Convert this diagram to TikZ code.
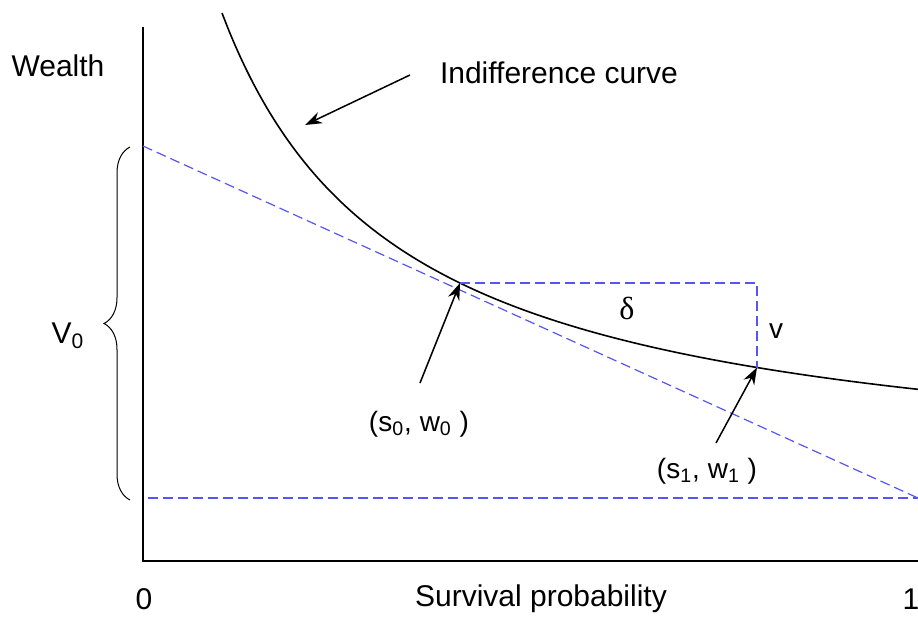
\documentclass[tikz,border=0pt]{standalone}
\usepackage{fontspec}
\setmainfont{Liberation Sans}
\newfontfamily\greekfont{Liberation Serif}
\usetikzlibrary{arrows.meta, decorations.pathreplacing}
\definecolor{budgetblue}{RGB}{85,85,240}

\begin{document}
\begin{tikzpicture}[x=0.5pt, y=-0.5pt, >={Stealth[length=8.5pt, width=6pt]},
    budget/.style={dash pattern=on 5pt off 2.5pt, color=budgetblue, line width=0.6pt},
    lbl/.style={font=\fontsize{15}{18}\selectfont, inner sep=0pt},
    ptlbl/.style={font=\fontsize{14}{17}\selectfont, inner sep=0pt},
    pointer/.style={->, line width=0.75pt}]
    \useasboundingbox (0,0) rectangle (918,618);

    % Axes
    \coordinate (ytop) at (143,27);
    \coordinate (origin) at (143,561);
    \coordinate (xend) at (918,561);
    \draw[line width=1pt] (ytop) -- (origin) -- (xend);

    % Indifference curve w = A - B/(s - C)
    \draw[line width=0.8pt] plot[domain=222:918, samples=90, smooth]
        (\x, {486.1 - 846.79/((\x-43)/100)});

    % Points on the curve
    \coordinate (s0) at (460,283);
    \coordinate (s1) at (757,367.5);
    \coordinate (corner) at (757,283);

    % Budget line, base line and the step between the two points
    \coordinate (v0top) at (143,146);
    \coordinate (v0bot) at (148,498);
    \coordinate (base) at (918,498);
    \draw[budget] (v0top) -- (base);
    \draw[budget] (v0bot) -- (base);
    \draw[budget] (s0) -- (corner) -- (s1);

    % Brace for V_0
    \draw[line width=0.5pt, decorate, decoration={brace, amplitude=13pt}]
        (130,500) -- (130,147);

    % Labels
    \node[lbl] (wealth) at (58,66) {Wealth};
    \node[lbl] (vzero) at (68,336) {V\textsubscript{0}};
    \node[lbl] (icurve) at (559,73) {Indifference curve};
    \node[font=\greekfont\fontsize{16}{18}\selectfont, inner sep=0pt] (delta) at (627,308) {δ};
    \node[ptlbl] (vlab) at (776,331) {v};
    \node[ptlbl] (lbls0) at (419,424) {(s\textsubscript{0}, w\textsubscript{0} )};
    \node[ptlbl] (lbls1) at (707,471) {(s\textsubscript{1}, w\textsubscript{1} )};
    \node[lbl] (zero) at (144,599) {0};
    \node[lbl] (survival) at (541,599) {Survival probability};
    \node[lbl] (one) at (911,599) {1};

    % Pointers
    \coordinate (ictail) at (410,75);
    \coordinate (ichead) at (305,125);
    \coordinate (s0tail) at (420,383);
    \coordinate (s1tail) at (716,443);
    \draw[pointer] (ictail) -- (ichead);
    \draw[pointer] (s0tail) -- (s0);
    \draw[pointer] (s1tail) -- (s1);
\end{tikzpicture}
\end{document}
